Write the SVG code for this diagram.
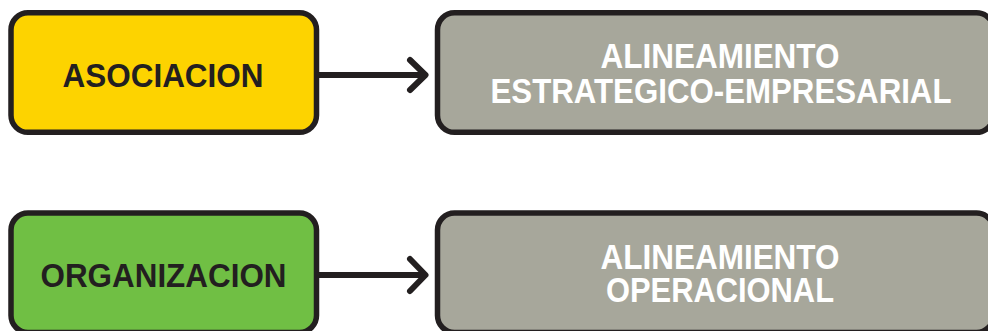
<svg xmlns="http://www.w3.org/2000/svg" width="988" height="331" viewBox="0 0 988 331">
<style>
.box{stroke:#231f20;stroke-width:5.5}
.yellow{fill:#fdd300}
.green{fill:#70bf44}
.grey{fill:#a7a79b}
.dark{font-family:"Liberation Sans",Arial,sans-serif;font-weight:bold;font-size:33px;fill:#231f20;text-anchor:middle}
.light{font-family:"Liberation Sans",Arial,sans-serif;font-weight:bold;font-size:35px;fill:#ffffff;text-anchor:middle}
.conn{fill:none;stroke:#231f20;stroke-width:6;stroke-linecap:round;stroke-linejoin:round}
</style>
<rect width="988" height="331" fill="#ffffff"/>
<g id="asociacion">
<rect class="box yellow" x="11" y="12.8" width="305.5" height="119.5" rx="17"/>
<text class="dark" x="163" y="86.5" textLength="201" lengthAdjust="spacingAndGlyphs">ASOCIACION</text>
</g>
<g id="alineamiento-estrategico">
<rect class="box grey" x="437.5" y="12.8" width="556" height="119.5" rx="17"/>
<text class="light" x="720" y="68.3" textLength="239" lengthAdjust="spacingAndGlyphs">ALINEAMIENTO</text>
<text class="light" x="721" y="102.5" textLength="461" lengthAdjust="spacingAndGlyphs">ESTRATEGICO-EMPRESARIAL</text>
</g>
<g id="organizacion">
<rect class="box green" x="11" y="213" width="305.5" height="119.5" rx="17"/>
<text class="dark" x="163.5" y="287" textLength="246" lengthAdjust="spacingAndGlyphs">ORGANIZACION</text>
</g>
<g id="alineamiento-operacional">
<rect class="box grey" x="437.5" y="213" width="556" height="119.5" rx="17"/>
<text class="light" x="720" y="269.3" textLength="239" lengthAdjust="spacingAndGlyphs">ALINEAMIENTO</text>
<text class="light" x="720" y="301.7" textLength="228" lengthAdjust="spacingAndGlyphs">OPERACIONAL</text>
</g>
<g id="connectors">
<path class="conn" d="M319 75 H424 M410 60 L425.5 75 L410 90"/>
<path class="conn" d="M319 275 H424 M410 259 L425.5 275 L410 291"/>
</g>
</svg>
